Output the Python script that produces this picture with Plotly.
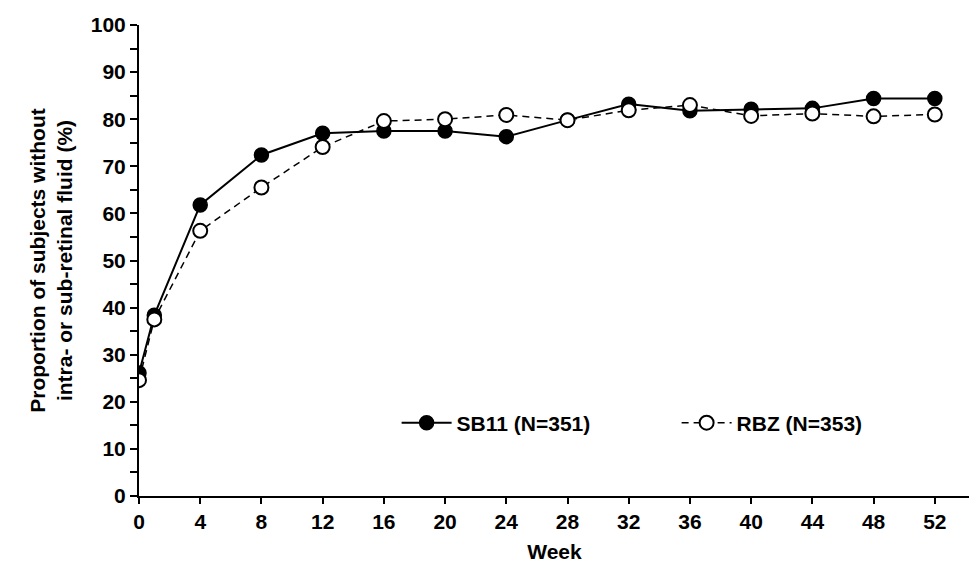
import plotly.graph_objects as go

weeks = [0, 1, 4, 8, 12, 16, 20, 24, 28, 32, 36, 40, 44, 48, 52]
sb11 = [26.1, 38.4, 61.8, 72.4, 77.0, 77.5, 77.5, 76.3, 79.8, 83.2, 81.8, 82.1, 82.3, 84.4, 84.4]
rbz = [24.6, 37.5, 56.3, 65.5, 74.1, 79.6, 80.0, 80.9, 79.8, 81.9, 83.0, 80.7, 81.2, 80.6, 81.0]

font = "Liberation Sans, Arial, sans-serif"
fs = 21

fig = go.Figure()
fig.add_trace(go.Scatter(
    x=weeks, y=sb11, mode='lines+markers', name='<b>SB11 (N=351)</b>',
    line=dict(color='black', width=2),
    marker=dict(symbol='circle', size=14, color='black', line=dict(color='black', width=1.5))
))
fig.add_trace(go.Scatter(
    x=weeks, y=rbz, mode='lines+markers', name='<b>RBZ (N=353)</b>',
    line=dict(color='black', width=1.5, dash='7px,5px'),
    marker=dict(symbol='circle', size=14, color='white', line=dict(color='black', width=2))
))

fig.update_layout(
    width=962, height=555,
    margin=dict(l=131, r=0, t=17, b=67),
    plot_bgcolor='white', paper_bgcolor='white',
    font=dict(family=font, size=fs, color='black'),
    legend=dict(orientation='h', x=0.31, y=0.155, xanchor='left', yanchor='middle',
                font=dict(size=fs), bgcolor='rgba(0,0,0,0)', itemwidth=50,
                entrywidthmode='pixels', entrywidth=215),
    xaxis=dict(
        range=[0, 54.3], tickmode='array', tickvals=list(range(0, 53, 4)),
        ticktext=['<b>%d</b>' % v for v in range(0, 53, 4)],
        ticks='outside', ticklen=6, tickwidth=1.5, tickcolor='black', automargin=False,
        showline=True, linecolor='black', linewidth=2, showgrid=False, zeroline=False,
        title=dict(text='<b>Week</b>', font=dict(size=fs), standoff=20)
    ),
    yaxis=dict(
        range=[0, 100], tickmode='array', tickvals=list(range(0, 101, 10)),
        ticktext=['<b>%d</b>' % v for v in range(0, 101, 10)],
        ticks='outside', ticklen=7, tickwidth=1.5, tickcolor='black', automargin=False,
        minor=dict(tickvals=list(range(5, 100, 10)), ticks='outside', ticklen=7, tickcolor='black', tickwidth=1.5),
        showline=True, linecolor='black', linewidth=2, showgrid=False, zeroline=False,
        title=dict(text='<b>Proportion of subjects without<br>intra- or sub-retinal fluid (%)</b>',
                   font=dict(size=fs), standoff=12)
    ),
)

fig.write_html("out.html")
